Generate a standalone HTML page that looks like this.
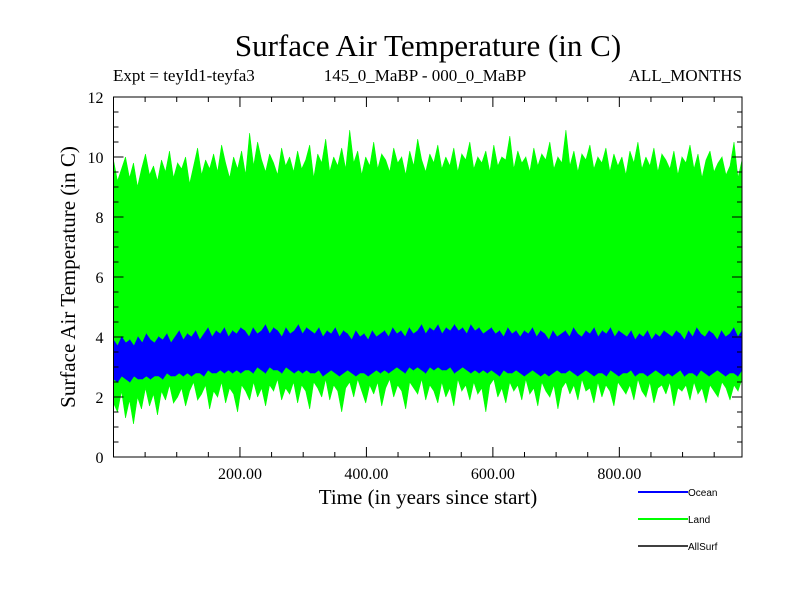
<!DOCTYPE html>
<html><head><meta charset="utf-8"><style>
body{margin:0;background:#fff}
svg{display:block}
text{font-family:"Liberation Serif",serif}
text.sans{font-family:"Liberation Sans",sans-serif}
</style></head><body>
<svg id="chart" width="800" height="600" viewBox="0 0 800 600" xmlns="http://www.w3.org/2000/svg">
<text x="428" y="56" text-anchor="middle" font-size="31">Surface Air Temperature (in C)</text>
<text x="113" y="81" font-size="17">Expt = teyId1-teyfa3</text>
<text x="425" y="81" text-anchor="middle" font-size="17">145_0_MaBP - 000_0_MaBP</text>
<text x="742" y="81" text-anchor="end" font-size="17">ALL_MONTHS</text>
<g id="plot"></g>
<g id="axes"></g>
<text transform="translate(75,277) rotate(-90)" text-anchor="middle" font-size="21">Surface Air Temperature (in C)</text>
<text x="428" y="504" text-anchor="middle" font-size="21">Time (in years since start)</text>
<g>
<line x1="638" y1="492" x2="688" y2="492" stroke="#0000ff" stroke-width="2"/>
<text class="sans" x="688" y="496" font-size="10">Ocean</text>
<line x1="638" y1="519" x2="688" y2="519" stroke="#00ff00" stroke-width="2"/>
<text class="sans" x="688" y="523" font-size="10">Land</text>
<line x1="638" y1="546" x2="688" y2="546" stroke="#000" stroke-width="1.5"/>
<text class="sans" x="688" y="550" font-size="10">AllSurf</text>
</g>
</svg>
<script>
const xTickLabels=["200.00","400.00","600.00","800.00"];
const xTickValues=[200,400,600,800];
const yTickValues=[0,2,4,6,8,10,12];
const landMax=[9.9,9.2,9.6,10.0,9.3,9.8,9.0,9.6,10.1,9.4,9.7,9.2,9.9,9.5,10.2,9.3,9.8,9.6,10.0,9.1,9.7,10.3,9.4,9.9,9.6,10.1,9.5,10.4,9.8,9.3,10.0,9.6,10.2,9.4,10.8,9.7,10.5,9.9,9.5,10.1,9.8,9.4,10.3,9.7,10.0,9.5,10.2,9.6,9.9,10.4,9.3,10.1,9.8,10.6,9.5,10.0,9.7,10.3,9.6,10.9,9.8,10.2,9.4,10.0,9.7,10.5,9.6,10.1,9.9,9.5,10.3,9.8,10.0,9.4,10.2,9.7,10.6,9.9,9.5,10.1,9.8,10.4,9.6,10.0,9.7,10.3,9.5,10.1,9.9,10.5,9.6,10.0,9.8,10.2,9.5,10.4,9.7,10.0,9.9,10.7,9.6,10.2,9.8,10.0,9.5,10.3,9.7,10.1,9.9,10.5,9.6,10.0,9.8,10.9,9.7,10.2,9.5,10.1,9.9,10.4,9.6,10.0,9.8,10.3,9.5,10.1,9.7,10.0,9.4,10.2,9.8,10.5,9.6,10.0,9.7,10.3,9.5,10.1,9.9,9.6,10.2,9.4,10.0,9.8,10.4,9.6,10.1,9.3,9.9,10.2,9.5,9.8,10.0,9.4,9.7,10.5,9.3,9.9,9.6,10.1];
const landMin=[1.8,1.5,2.2,1.3,1.9,1.1,2.0,1.6,2.3,1.7,2.1,1.4,2.2,1.9,2.4,1.8,2.0,2.3,1.7,2.2,2.5,1.9,2.1,2.4,1.6,2.2,2.0,2.5,1.8,2.3,2.1,1.5,2.4,2.2,1.9,2.5,2.0,2.3,1.7,2.4,2.2,2.6,1.9,2.3,2.1,2.5,1.8,2.4,2.2,1.6,2.5,2.3,2.0,2.6,1.9,2.4,2.2,1.5,2.3,2.5,2.0,2.6,2.2,1.8,2.4,2.1,2.5,1.7,2.3,2.6,2.0,2.4,2.2,1.6,2.5,2.3,2.1,2.6,1.9,2.4,2.2,1.8,2.5,2.0,2.3,1.7,2.6,2.2,2.4,1.9,2.5,2.1,2.3,1.5,2.4,2.6,2.0,2.3,1.8,2.5,2.2,2.4,1.9,2.6,2.1,2.3,1.7,2.5,2.2,2.0,2.4,1.6,2.3,2.5,2.1,2.4,1.9,2.6,2.2,2.3,1.8,2.5,2.0,2.4,2.2,1.7,2.5,2.3,2.1,2.4,1.9,2.6,2.2,2.0,2.5,1.8,2.3,2.4,2.1,2.5,1.7,2.3,2.2,2.4,1.9,2.5,2.1,2.3,1.8,2.4,2.2,2.0,2.5,2.3,1.9,2.4,2.2,2.6];
const oceanMax=[3.9,3.7,4.0,3.8,3.9,3.7,4.0,3.8,4.1,3.9,3.8,4.0,3.9,4.1,3.8,4.0,4.2,3.9,4.1,4.0,4.2,3.9,4.1,4.3,4.0,4.2,4.1,4.3,4.0,4.2,4.1,4.3,4.2,4.0,4.3,4.1,4.2,4.4,4.1,4.3,4.2,4.0,4.3,4.1,4.2,4.4,4.1,4.3,4.2,4.1,4.3,4.0,4.2,4.1,4.3,4.0,4.2,4.1,3.9,4.2,4.0,4.1,3.9,4.2,4.0,4.1,4.2,4.0,4.3,4.1,4.2,4.0,4.3,4.1,4.2,4.4,4.1,4.3,4.2,4.4,4.1,4.3,4.2,4.4,4.2,4.3,4.1,4.4,4.2,4.3,4.1,4.2,4.3,4.1,4.2,4.0,4.3,4.1,4.2,4.0,4.2,4.1,4.3,4.0,4.2,4.1,3.9,4.2,4.0,4.1,4.2,4.0,4.3,4.1,4.0,4.2,4.1,4.3,4.0,4.2,4.1,4.3,4.0,4.2,4.1,4.0,4.2,3.9,4.1,4.0,4.2,3.9,4.1,4.0,4.2,4.1,4.0,4.2,4.1,3.9,4.2,4.0,4.3,4.1,4.0,4.2,4.1,3.9,4.2,4.0,4.1,4.3,4.0,4.2];
const oceanMin=[2.6,2.5,2.7,2.6,2.5,2.7,2.6,2.6,2.7,2.6,2.7,2.7,2.6,2.8,2.7,2.7,2.8,2.7,2.8,2.7,2.8,2.8,2.7,2.9,2.8,2.8,2.9,2.8,2.9,2.8,2.9,2.8,2.9,2.9,2.8,3.0,2.9,2.8,3.0,2.9,2.9,2.8,3.0,2.9,2.8,2.9,2.8,2.9,2.8,2.8,2.9,2.7,2.8,2.9,2.8,2.7,2.8,2.9,2.8,2.7,2.8,2.8,2.7,2.8,2.9,2.8,2.9,2.8,2.9,3.0,2.9,2.8,3.0,2.9,3.0,2.9,2.8,3.0,2.9,3.0,2.9,2.9,3.0,2.8,2.9,3.0,2.9,2.8,2.9,2.8,2.9,2.8,2.9,2.8,2.7,2.9,2.8,2.8,2.9,2.8,2.7,2.8,2.9,2.8,2.7,2.8,2.7,2.8,2.9,2.8,2.8,2.9,2.8,2.7,2.8,2.9,2.8,2.7,2.8,2.8,2.7,2.9,2.8,2.7,2.8,2.8,2.9,2.7,2.8,2.8,2.7,2.8,2.9,2.8,2.7,2.8,2.7,2.8,2.9,2.7,2.8,2.8,2.7,2.9,2.8,2.7,2.8,2.9,2.8,2.7,2.8,2.8,2.7,2.9,2.8,2.8];
const NS="http://www.w3.org/2000/svg";
const L=113.5,R=742,T=97,B=457,XMAX=994,YMAX=12;
const xs=v=>L+v/XMAX*(R-L);
const ys=v=>B-v/YMAX*(B-T);
function mk(t,a,p){const e=document.createElementNS(NS,t);for(const k in a)e.setAttribute(k,a[k]);p.appendChild(e);return e;}
const plot=document.getElementById('plot'),axes=document.getElementById('axes');
function band(hi,lo,color,name){
  const n=Math.min(hi.length,lo.length);
  let d='';
  for(let i=0;i<n-1;i++){
    const x0=xs(i/(n-1)*XMAX).toFixed(1),x1=xs((i+1)/(n-1)*XMAX).toFixed(1);
    d+='M'+x0+','+ys(hi[i]).toFixed(1)+'L'+x1+','+ys(hi[i+1]).toFixed(1)+'L'+x1+','+ys(lo[i+1]).toFixed(1)+'L'+x0+','+ys(lo[i]).toFixed(1)+'Z';
  }
  const p=mk('path',{d:d,fill:color,stroke:color,'stroke-width':'0.6'},plot);
  
  
}
band(landMax,landMin,'#00ff00','land-series');
band(oceanMax,oceanMin,'#0000ff','ocean-series');
const frame=mk('rect',{x:L,y:T,width:R-L,height:B-T,fill:'none',stroke:'#000','stroke-width':1},axes);


for(let v=50;v<XMAX;v+=50){const major=v%200===0,len=major?10:5,x=xs(v);
  mk('line',{x1:x,y1:B,x2:x,y2:B-len,stroke:'#000'},axes);
  mk('line',{x1:x,y1:T,x2:x,y2:T+len,stroke:'#000'},axes);}
for(let v=0.5;v<YMAX;v+=0.5){const major=v%2===0,len=major?10:5,y=ys(v);
  mk('line',{x1:L,y1:y,x2:L+len,y2:y,stroke:'#000'},axes);
  mk('line',{x1:R,y1:y,x2:R-len,y2:y,stroke:'#000'},axes);}
xTickValues.forEach((v,i)=>{const t=mk('text',{x:xs(v),y:B+22,'text-anchor':'middle','font-size':16},axes);t.textContent=xTickLabels[i];
  
  });
yTickValues.forEach(v=>{const t=mk('text',{x:L-10,y:ys(v)+6,'text-anchor':'end','font-size':16},axes);t.textContent=v;
  
  });
</script>
</body></html>
